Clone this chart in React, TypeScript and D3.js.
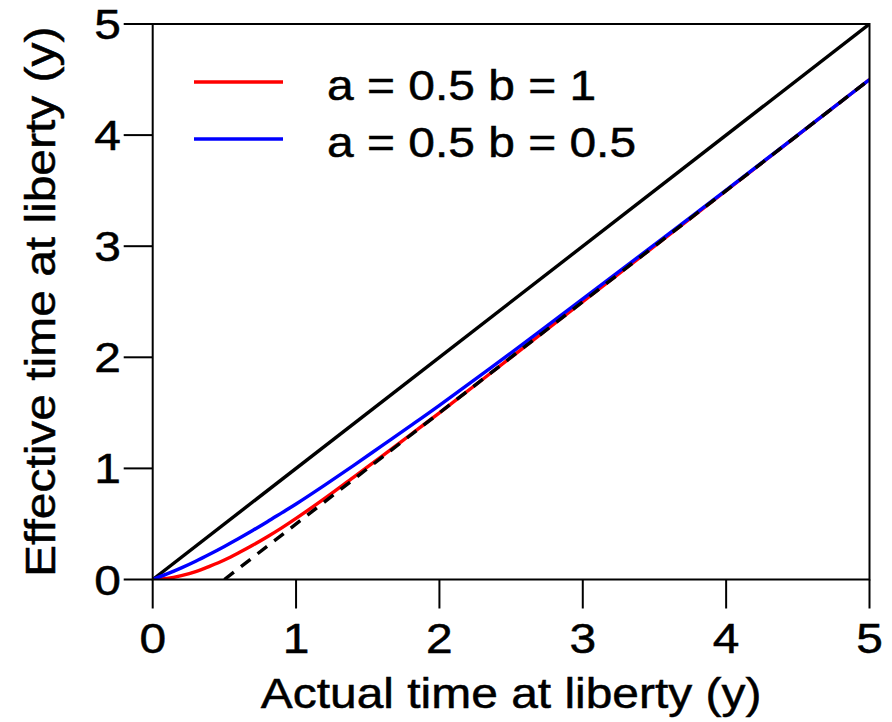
import React from "react";
import * as d3 from "d3";

// values
const ticks = [0, 1, 2, 3, 4, 5];

const timeRed = [0, 0.1, 0.2, 0.3, 0.4, 0.5, 0.6, 0.7, 0.8, 0.9, 1.0, 1.2, 1.4, 1.6, 1.8, 2.0, 2.5, 3.0, 4.0, 5.0];
const effRed = [0, 0.01, 0.035, 0.07, 0.12, 0.175, 0.24, 0.31, 0.385, 0.465, 0.55, 0.73, 0.92, 1.11, 1.305, 1.5, 2.0, 2.5, 3.5, 4.5];

const timeBlue = [0, 0.1, 0.2, 0.3, 0.4, 0.5, 0.6, 0.7, 0.8, 0.9, 1.0, 1.2, 1.4, 1.6, 1.8, 2.0, 2.5, 3.0, 4.0, 5.0];
const effBlue = [0, 0.05, 0.105, 0.165, 0.23, 0.298, 0.369, 0.443, 0.52, 0.6, 0.68, 0.85, 1.025, 1.205, 1.385, 1.568, 2.04, 2.525, 3.505, 4.5];

const oneToOne = [[0, 0], [5, 5]];
const asymptote = [[0.5, 0], [5, 4.5]];

const legendLabels = ["a = 0.5 b = 1", "a = 0.5 b = 0.5"];
const legendColors = ["#ff0000", "#0000ff"];

const W = 892;
const H = 722;
const left = 152.7;
const right = 869.5;
const top = 24;
const bottom = 579.5;
const FONT = "'Liberation Sans', Arial, sans-serif";
const SX = 1.115;

const Txt = ({ x, y, anchor, rotate, children }: any) => (
  <g transform={`translate(${x},${y})${rotate ? ` rotate(${rotate})` : ""} scale(${SX},1)`}>
    <text x={0} y={0} textAnchor={anchor} fontFamily={FONT} fontSize={43} fill="#000" stroke="#000" strokeWidth={0.5}>
      {children}
    </text>
  </g>
);

export default function App() {
  const x = d3.scaleLinear().domain([0, 5]).range([left, right]);
  const y = d3.scaleLinear().domain([0, 5]).range([bottom, top]);

  const curve = d3
    .line<[number, number]>()
    .x((d) => x(d[0]))
    .y((d) => y(d[1]))
    .curve(d3.curveCatmullRom.alpha(0.5));
  const straight = d3
    .line<number[]>()
    .x((d) => x(d[0]))
    .y((d) => y(d[1]));

  const red = timeRed.map((t, i) => [t, effRed[i]] as [number, number]);
  const blue = timeBlue.map((t, i) => [t, effBlue[i]] as [number, number]);

  return (
    <svg width={W} height={H} style={{ position: "absolute", left: 0, top: 0, background: "#fff" }}>
      <defs>
        <clipPath id="plot">
          <rect x={left} y={top} width={right - left} height={bottom - top} />
        </clipPath>
      </defs>

      <g clipPath="url(#plot)" fill="none" strokeWidth={3.4}>
        <path d={straight(oneToOne) || ""} stroke="#000" />
        <path d={curve(red) || ""} stroke="#ff0000" />
        <path d={curve(blue) || ""} stroke="#0000ff" />
        <path d={straight(asymptote) || ""} stroke="#000" strokeDasharray="12,9" />
      </g>

      {/* box */}
      <rect x={left} y={top} width={right - left} height={bottom - top} fill="none" stroke="#000" strokeWidth={2} />

      {/* x axis */}
      {ticks.map((t) => (
        <g key={"x" + t}>
          <line x1={x(t)} x2={x(t)} y1={bottom} y2={bottom + 29} stroke="#000" strokeWidth={2} />
          <Txt x={x(t)} y={653} anchor="middle">{t}</Txt>
        </g>
      ))}

      {/* y axis */}
      {ticks.map((t) => (
        <g key={"y" + t}>
          <line x1={left - 29} x2={left} y1={y(t)} y2={y(t)} stroke="#000" strokeWidth={2} />
          <Txt x={121} y={y(t) + 15} anchor="end">{t}</Txt>
        </g>
      ))}

      <Txt x={(left + right) / 2} y={708} anchor="middle">Actual time at liberty (y)</Txt>
      <Txt x={55} y={(top + bottom) / 2} anchor="middle" rotate={-90}>Effective time at liberty (y)</Txt>

      {/* legend */}
      {legendLabels.map((lab, i) => (
        <g key={lab}>
          <line x1={194} x2={283} y1={82 + i * 57} y2={82 + i * 57} stroke={legendColors[i]} strokeWidth={3.4} />
          <Txt x={327} y={100 + i * 57} anchor="start">{lab}</Txt>
        </g>
      ))}
    </svg>
  );
}
